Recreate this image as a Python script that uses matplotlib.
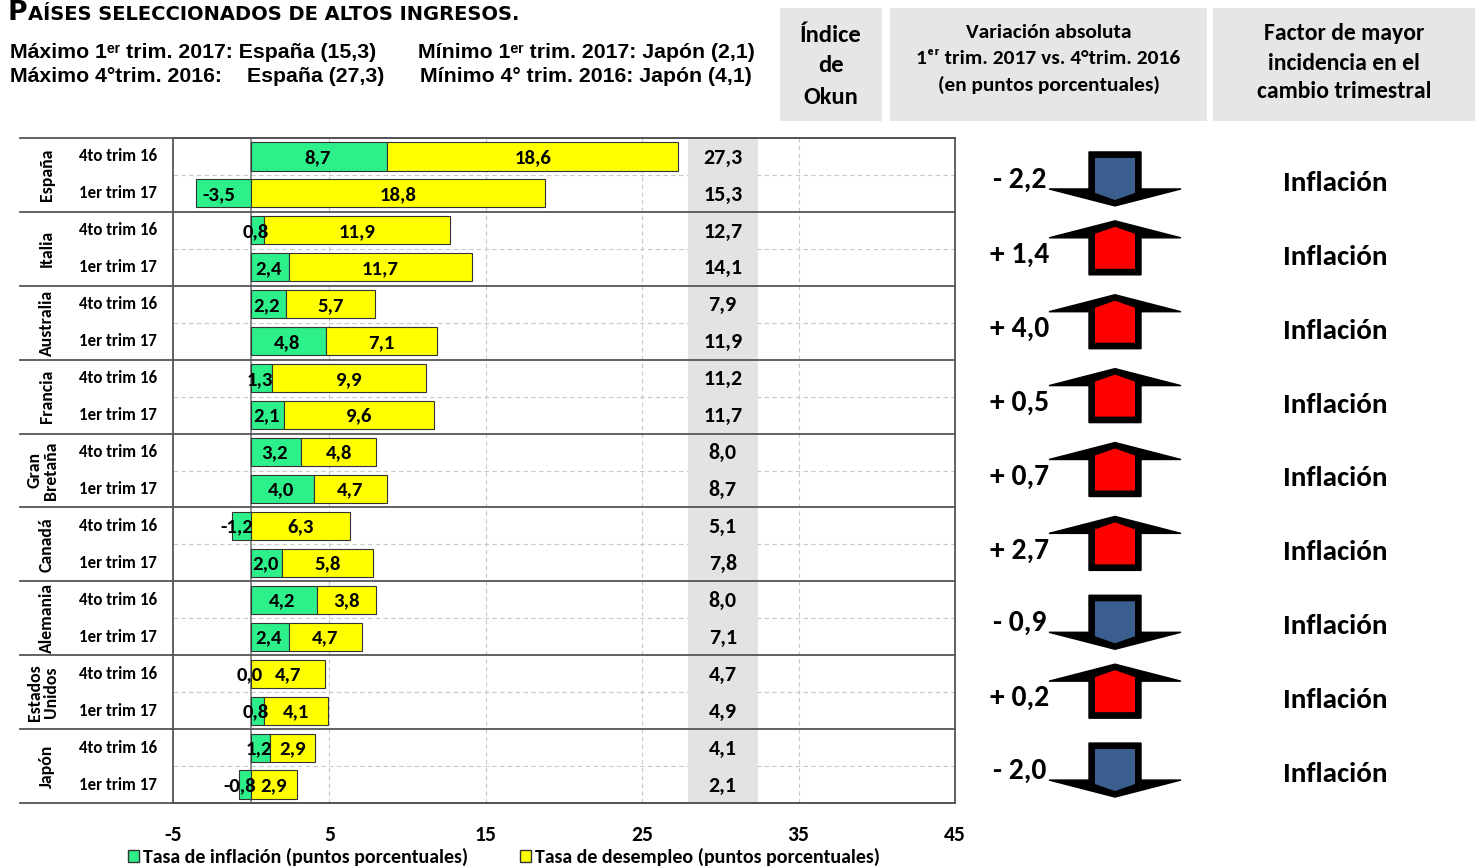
import matplotlib
matplotlib.use('Agg')
import matplotlib.pyplot as plt
from matplotlib import font_manager as fm
from matplotlib.patches import Polygon, Rectangle, Patch
from matplotlib.transforms import blended_transform_factory

# ---------------- data ----------------
countries = ['España', 'Italia', 'Australia', 'Francia', 'Gran\nBretaña',
             'Canadá', 'Alemania', 'Estados\nUnidos', 'Japón']
quarters = ['4to trim 16', '1er trim 17']
infl_q4 = [8.7, 0.8, 2.2, 1.3, 3.2, -1.2, 4.2, 0.0, 1.2]
unemp_q4 = [18.6, 11.9, 5.7, 9.9, 4.8, 6.3, 3.8, 4.7, 2.9]
infl_q1 = [-3.5, 2.4, 4.8, 2.1, 4.0, 2.0, 2.4, 0.8, -0.8]
unemp_q1 = [18.8, 11.7, 7.1, 9.6, 4.7, 5.8, 4.7, 4.1, 2.9]
okun_q4 = [27.3, 12.7, 7.9, 11.2, 8.0, 5.1, 8.0, 4.7, 4.1]
okun_q1 = [15.3, 14.1, 11.9, 11.7, 8.7, 7.8, 7.1, 4.9, 2.1]
change = [-2.2, 1.4, 4.0, 0.5, 0.7, 2.7, -0.9, 0.2, -2.0]
factor = ['Inflación'] * 9
xticks = [-5, 5, 15, 25, 35, 45]
legend_labels = ['Tasa de inflación (puntos porcentuales)',
                 'Tasa de desempleo (puntos porcentuales)']
header_title_first = 'P'
header_title_rest = 'AÍSES SELECCIONADOS DE ALTOS INGRESOS.'
sub_lines = [('Máximo 1ᵉʳ trim. 2017: España (15,3)', 10, 52),
             ('Mínimo 1ᵉʳ trim. 2017: Japón (2,1)', 418, 52),
             ('Máximo 4°trim. 2016:', 10, 77),
             ('España (27,3)', 247, 77),
             ('Mínimo 4° trim. 2016: Japón (4,1)', 420, 77)]
box_lines = [['Índice', 'de', 'Okun'],
             ['Variación absoluta', '1ᵉʳ trim. 2017 vs. 4°trim. 2016', '(en puntos porcentuales)'],
             ['Factor de mayor', 'incidencia en el', 'cambio trimestral']]

GREEN = '#2EF08A'
YELLOW = '#FFFF00'
BLUE = '#3A5F8F'
RED = '#FF0000'
GRAYBOX = '#E6E6E6'


def first_available(cands):
    for c in cands:
        try:
            fm.findfont(fm.FontProperties(family=c, weight='bold'), fallback_to_default=False)
            return c
        except Exception:
            continue
    return 'DejaVu Sans'


ARIAL = [first_available(['Liberation Sans', 'Arimo', 'Arial']), 'DejaVu Sans']
TITLEF = ['DejaVu Sans']
SANS = [first_available(['Carlito', 'Calibri', 'Lato']), 'DejaVu Sans']


def fmt(v):
    return f"{v:.1f}".replace('.', ',')


W, H = 1475, 867
fig = plt.figure(figsize=(W / 100, H / 100), dpi=100)
renderer = fig.canvas.get_renderer()


def textw(s, fam, fs):
    t = fig.text(0, 0, s, fontsize=fs, family=fam, fontweight='bold')
    w = t.get_window_extent(renderer).width
    t.remove()
    return w


def fit(s, fam, target):
    return 10 * target / textw(s, fam, 10)


# font sizes fitted to the reference text widths
fs_bar = fit('18,6', SANS, 37)
fs_okun = fit('27,3', SANS, 39)
fs_q = fit('4to trim 16', SANS, 78)
fs_cty = fit('Australia', SANS, 66)
fs_tick = fit('15', SANS, 22)
fs_leg = fit(legend_labels[0], SANS, 324)
fs_sub = fit(sub_lines[0][0], ARIAL, 366)
fs_box = [fit('Índice', SANS, 62), fit('Variación absoluta', SANS, 165),
          fit('Factor de mayor', SANS, 160)]
fs_val = fit('+ 1,4', SANS, 59)
fs_fac = fit('Inflación', SANS, 105)

# overlay axes in pixel coordinates for header / arrows
ov = fig.add_axes([0, 0, 1, 1])
ov.set_xlim(0, W)
ov.set_ylim(H, 0)
ov.axis('off')

# main axes
ax_l, ax_r, ax_t, ax_b = 173, 955, 138, 803
ax = fig.add_axes([ax_l / W, 1 - ax_b / H, (ax_r - ax_l) / W, (ax_b - ax_t) / H])
ax.set_xlim(-5, 45)
nrows = 2 * len(countries)
ax.set_ylim(nrows - 0.5, -0.5)
rowh = (ax_b - ax_t) / nrows

rows, infl, unemp, okun, qlab = [], [], [], [], []
for i in range(len(countries)):
    for q, (iv, uv, okv) in enumerate([(infl_q4[i], unemp_q4[i], okun_q4[i]),
                                       (infl_q1[i], unemp_q1[i], okun_q1[i])]):
        rows.append(2 * i + q)
        infl.append(iv)
        unemp.append(uv)
        okun.append(okv)
        qlab.append(quarters[q])

g_left = [min(v, 0) for v in infl]
g_w = [abs(v) for v in infl]
y_left = [max(v, 0) for v in infl]

# grid / background
for x in [5, 15, 25, 35]:
    ax.axvline(x, color='#C8C8C8', ls=(0, (4, 3)), lw=0.8, zorder=0)
for i in range(len(countries)):
    ax.axhline(2 * i + 0.5, color='#C8C8C8', ls=(0, (4, 3)), lw=0.8, zorder=0)
ax.axvspan(27.9, 32.4, color='#E3E3E3', zorder=0.5, lw=0)
ax.axvline(0, color='#777777', lw=1.2, zorder=1)

ax.barh(rows, g_w, left=g_left, height=0.76, color=GREEN, edgecolor='#333333',
        linewidth=0.8, zorder=3)
ax.barh(rows, unemp, left=y_left, height=0.76, color=YELLOW, edgecolor='#333333',
        linewidth=0.8, zorder=3)

for r, iv, uv, ok, yl in zip(rows, infl, unemp, okun, y_left):
    off = -0.35 if iv < 0 else -0.1
    ax.text(iv / 2 + off, r + 0.03, fmt(iv), ha='center', va='center', fontsize=fs_bar,
            fontweight='bold', family=SANS, zorder=5)
    ax.text(yl + uv / 2, r + 0.03, fmt(uv), ha='center', va='center', fontsize=fs_bar,
            fontweight='bold', family=SANS, zorder=5)
    ax.text(30.15, r + 0.03, fmt(ok), ha='center', va='center', fontsize=fs_okun,
            fontweight='bold', family=SANS, zorder=5)

# solid separators extended into the left table
blend = blended_transform_factory(ax.transAxes, ax.transData)
x_table = (20 - ax_l) / (ax_r - ax_l)
for i in range(len(countries) + 1):
    ax.plot([x_table, 1], [2 * i - 0.5] * 2, transform=blend, color='#555555',
            lw=1.3, clip_on=False, zorder=6)

for s in ax.spines.values():
    s.set_color('#555555')
    s.set_linewidth(1.3)

# left table labels
x_cty = (47 - ax_l) / (ax_r - ax_l)
x_q = (118 - ax_l) / (ax_r - ax_l)
for i, c in enumerate(countries):
    xc = x_cty - (4 / (ax_r - ax_l) if '\n' in c else 0)
    ax.text(xc, 2 * i + 0.5, c, transform=blend, rotation=90, ha='center',
            va='center', fontsize=fs_cty, fontweight='bold', family=SANS,
            linespacing=1.0)
for r, q in zip(rows, qlab):
    ax.text(x_q, r, q, transform=blend, ha='center', va='center', fontsize=fs_q,
            fontweight='bold', family=SANS)

ax.set_yticks([])
ax.set_xticks(xticks)
ax.set_xticklabels([str(t) for t in xticks], fontsize=fs_tick, fontweight='bold',
                   family=SANS)
ax.tick_params(axis='x', length=0, pad=16)

# ---------------- header (title in small caps style) ----------------
ratio = 1.37
wP10 = textw(header_title_first, TITLEF, 10 * ratio)
wR10 = textw(header_title_rest, TITLEF, 10)
fs_rest = 10 * (520 - 8) / (wP10 + wR10)
fs_P = fs_rest * ratio
ov.text(8, 20, header_title_first, ha='left', va='baseline', fontsize=fs_P,
        fontweight='bold', family=TITLEF)
wP = textw(header_title_first, TITLEF, fs_P)
ov.text(8 + wP, 20, header_title_rest, ha='left', va='baseline', fontsize=fs_rest,
        fontweight='bold', family=TITLEF)
for s, x, y in sub_lines:
    ov.text(x, y, s, ha='left', va='center', fontsize=fs_sub, fontweight='bold',
            family=ARIAL)

boxes = [(780, 882, [34, 65, 96]), (890, 1207, [32, 58, 84]), (1213, 1475, [33, 62, 91])]
for (x0, x1, ys), lines, fs in zip(boxes, box_lines, fs_box):
    ov.add_patch(Rectangle((x0, 8), x1 - x0, 113, facecolor=GRAYBOX, edgecolor='none'))
    for ln, y in zip(lines, ys):
        ov.text((x0 + x1) / 2, y + 1, ln, ha='center', va='center', fontsize=fs,
                fontweight='bold', family=SANS)

# ---------------- arrows ----------------
cx = 1115
for i, ch in enumerate(change):
    gc = ax_t + rowh * (2 * i + 1)
    down = ch < 0
    s = 1 if down else -1
    cy = gc + (4 if down else -1)
    top = cy - 27 * s
    base = cy + 10 * s
    tip = cy + 27 * s
    outer = [(cx - 26, top), (cx + 26, top), (cx + 26, base), (cx + 66, base),
             (cx, tip), (cx - 66, base), (cx - 26, base)]
    inner = [(cx - 20, top + 6 * s), (cx + 20, top + 6 * s), (cx + 20, base + 4 * s),
             (cx, base + 11 * s), (cx - 20, base + 4 * s)]
    ov.add_patch(Polygon(outer, closed=True, facecolor='black', edgecolor='black', lw=1))
    ov.add_patch(Polygon(inner, closed=True, facecolor=BLUE if down else RED,
                         edgecolor='none'))
    sign = '-' if down else '+'
    ov.text(1020, cy + (1 if down else 7), f"{sign} {fmt(abs(ch))}", ha='center',
            va='center', fontsize=fs_val, fontweight='bold', family=SANS)
    ov.text(1335, gc + 8, factor[i], ha='center', va='center', fontsize=fs_fac,
            fontweight='bold', family=SANS)

# ---------------- legend ----------------
handles = [Patch(facecolor=GREEN, edgecolor='#333333'),
           Patch(facecolor=YELLOW, edgecolor='#333333')]
leg_px = fs_leg * 100 / 72
w_first = textw(legend_labels[0], SANS, fs_leg)
col_gap = (520 - 143) - w_first
fig.legend(handles, legend_labels,
           loc='center left', bbox_to_anchor=(128 / W, 1 - 857 / H), ncol=2,
           frameon=False, handlelength=11 / leg_px, handleheight=11 / leg_px,
           handletextpad=4 / leg_px, columnspacing=max(col_gap, 10) / leg_px,
           borderpad=0, borderaxespad=0,
           prop={'family': SANS, 'weight': 'bold', 'size': fs_leg})

fig.savefig('out.png', dpi=100)
